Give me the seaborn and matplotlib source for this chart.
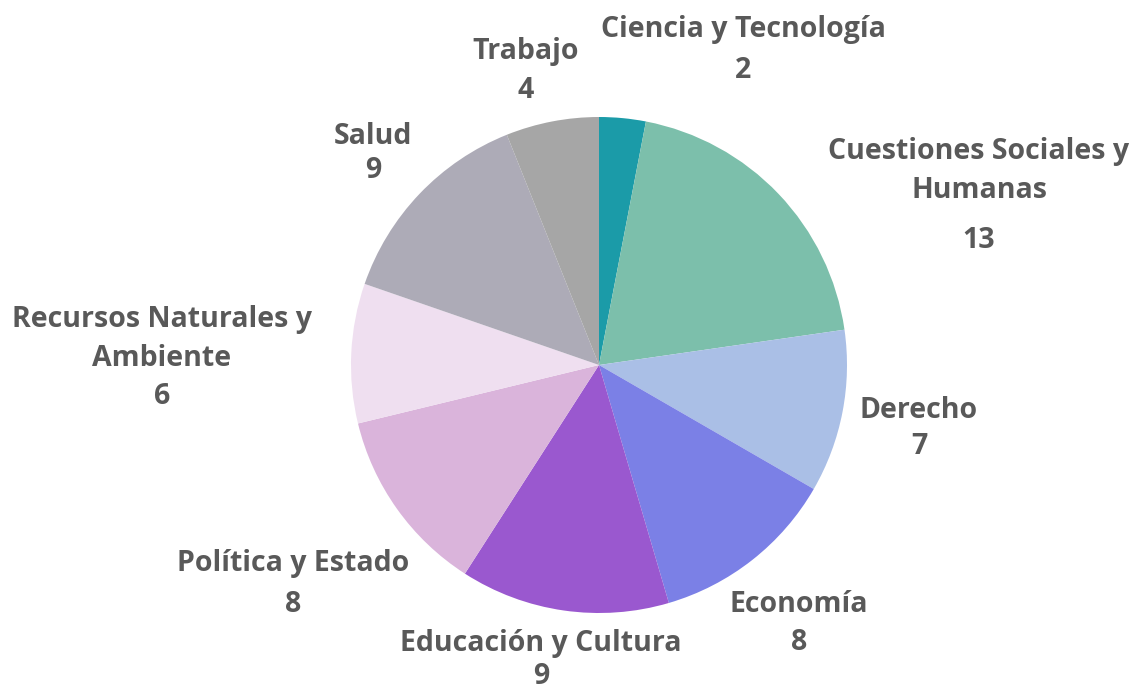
import matplotlib
matplotlib.use('Agg')
import matplotlib.pyplot as plt
import seaborn as sns

sns.set_style('white')
plt.rcParams['font.family'] = ['Open Sans', 'DejaVu Sans']

# data
categories = ['Ciencia y Tecnología', 'Cuestiones Sociales y\nHumanas', 'Derecho', 'Economía',
              'Educación y Cultura', 'Política y Estado', 'Recursos Naturales y\nAmbiente',
              'Salud', 'Trabajo']
counts = [2, 13, 7, 8, 9, 8, 6, 9, 4]
colors = ['#1b9ba8', '#7cbfab', '#aabfe6', '#7b80e6', '#9a58cf', '#dab4db', '#efdff0',
          '#adabb7', '#a6a6a6']

# label layout (figure pixels from top-left): name centre, value centre
name_pos = [(743, 30), (979, 171), (919, 411), (799, 605), (541, 643),
            (293, 563), (162, 339), (373, 137), (526, 52)]
value_pos = [(743, 70), (979, 240), (919, 447), (799, 643), (541, 677),
             (293, 605), (162, 396), (373, 170), (526, 90)]

W, H = 1136, 691
fig = plt.figure(figsize=(W / 100, H / 100), dpi=100)
cx, cy, r = 599, 365, 248
ax = fig.add_axes([(cx - r) / W, (H - cy - r) / H, 2 * r / W, 2 * r / H])
ax.pie(counts, colors=colors, startangle=90, counterclock=False, radius=1,
       wedgeprops=dict(linewidth=0))
ax.set_xlim(-1, 1)
ax.set_ylim(-1, 1)
ax.set_aspect('equal')
ax.axis('off')

txt = dict(ha='center', va='center', fontsize=20.5, fontweight='bold', color='#595959')
for name, val, (nx, ny), (vx, vy) in zip(categories, counts, name_pos, value_pos):
    fig.text(nx / W, 1 - ny / H, name, linespacing=1.45, **txt)
    fig.text(vx / W, 1 - vy / H, str(val), **txt)

fig.savefig('out.png', dpi=100, facecolor='white')
